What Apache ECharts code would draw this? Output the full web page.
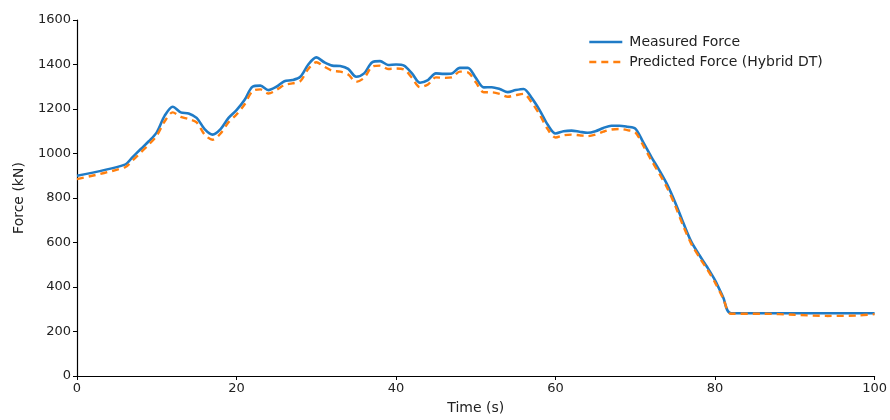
<!DOCTYPE html>
<html>
<head>
<meta charset="utf-8">
<script src="https://cdn.jsdelivr.net/npm/echarts@6/dist/echarts.min.js"></script>
<style>html,body{margin:0;padding:0;background:#fff}#c{width:890px;height:420px}</style>
</head>
<body>
<div id="c"></div>
<script>
const timeMeasured = [0,6,7,8,9,10,11,12,13,14,15,16,17,18,19,20,21,22,23,24,25,26,27,28,29,30,31,32,33,34,35,36,37,38,39,40,41,42,43,44,45,46,47,48,49,50,51,52,53,54,55,56,57,58,59,60,61,62,63,64,65,66,67,68,69,70,71,72,73,74,75,76,77,78,79,80,81,82,100];
const measuredForce = [900,950,985,1020,1055,1095,1170,1210,1185,1180,1160,1110,1085,1110,1160,1195,1240,1300,1305,1285,1300,1325,1330,1345,1400,1432,1410,1395,1393,1380,1345,1360,1410,1415,1398,1400,1395,1360,1318,1330,1360,1358,1360,1385,1385,1340,1297,1298,1290,1276,1285,1290,1250,1195,1130,1090,1100,1103,1098,1093,1100,1115,1125,1125,1120,1112,1050,985,925,860,780,690,605,545,490,430,355,282,282];
const timePredicted = [0,6,7,8,9,10,11,12,13,14,15,16,17,18,19,20,21,22,23,24,25,26,27,28,29,30,31,32,33,34,35,36,37,38,39,40,41,42,43,44,45,46,47,48,49,50,51,52,53,54,55,56,57,58,59,60,61,62,63,64,65,66,67,68,69,70,71,72,73,74,75,76,77,78,79,80,81,82,86,90,94,98,100];
const predictedForce = [885,938,970,1005,1040,1080,1145,1185,1165,1155,1140,1085,1062,1090,1140,1175,1220,1280,1288,1270,1285,1308,1315,1325,1380,1410,1390,1372,1368,1355,1322,1340,1390,1395,1380,1382,1378,1340,1298,1310,1342,1340,1342,1368,1365,1320,1275,1275,1268,1255,1262,1268,1230,1175,1110,1072,1082,1085,1082,1078,1085,1098,1108,1110,1105,1095,1035,970,910,845,765,675,595,535,480,420,350,280,280,275,270,272,278];
const seriesNames = ['Measured Force','Predicted Force (Hybrid DT)'];

const pair = (xs, ys) => xs.map((x, i) => [x, ys[i]]);
const FONT = 'DejaVu Sans';
const chart = echarts.init(document.getElementById('c'), null, {renderer: 'canvas'});
chart.setOption({
  animation: false,
  backgroundColor: '#fff',
  grid: {left: 77, right: 13, top: 20, bottom: 42},
  legend: {
    left: 583, top: 30, orient: 'vertical', itemGap: 6, itemWidth: 33, itemHeight: 16,
    textStyle: {fontFamily: FONT, fontSize: 14, color: '#222', padding: [0, 0, 0, 2]},
    itemStyle: {opacity: 0},
    lineStyle: {width: 2.6},
    data: seriesNames
  },
  xAxis: {
    type: 'value', min: 0, max: 100, interval: 20,
    name: 'Time (s)', nameLocation: 'middle', nameGap: 25,
    nameTextStyle: {fontFamily: FONT, fontSize: 14, color: '#222'},
    axisLine: {show: true, lineStyle: {color: '#000', width: 1.2}},
    axisTick: {show: true, length: 4, lineStyle: {color: '#000'}},
    axisLabel: {fontFamily: FONT, fontSize: 13, color: '#222', margin: 6, formatter: v => String(v)},
    splitLine: {show: false}
  },
  yAxis: {
    type: 'value', min: 0, max: 1600, interval: 200,
    name: 'Force (kN)', nameLocation: 'middle', nameGap: 51, nameRotate: 90,
    nameTextStyle: {fontFamily: FONT, fontSize: 14, color: '#222'},
    axisLine: {show: true, lineStyle: {color: '#000', width: 1.2}},
    axisTick: {show: true, length: 4, lineStyle: {color: '#000'}},
    axisLabel: {fontFamily: FONT, fontSize: 13, color: '#222', margin: 6, formatter: v => String(v)},
    splitLine: {show: false}
  },
  series: [
    {
      name: seriesNames[0], type: 'line', data: pair(timeMeasured, measuredForce),
      symbol: 'none', smooth: 0.3, z: 2,
      itemStyle: {color: '#1a82d6'},
      lineStyle: {color: '#1f7bc6', width: 2.6}
    },
    {
      name: seriesNames[1], type: 'line', data: pair(timePredicted, predictedForce),
      symbol: 'none', smooth: 0.3, z: 3,
      itemStyle: {color: '#ff7f0e'},
      lineStyle: {color: '#ff7f0e', width: 2.4, type: [7, 5]}
    }
  ]
});
</script>
</body>
</html>
